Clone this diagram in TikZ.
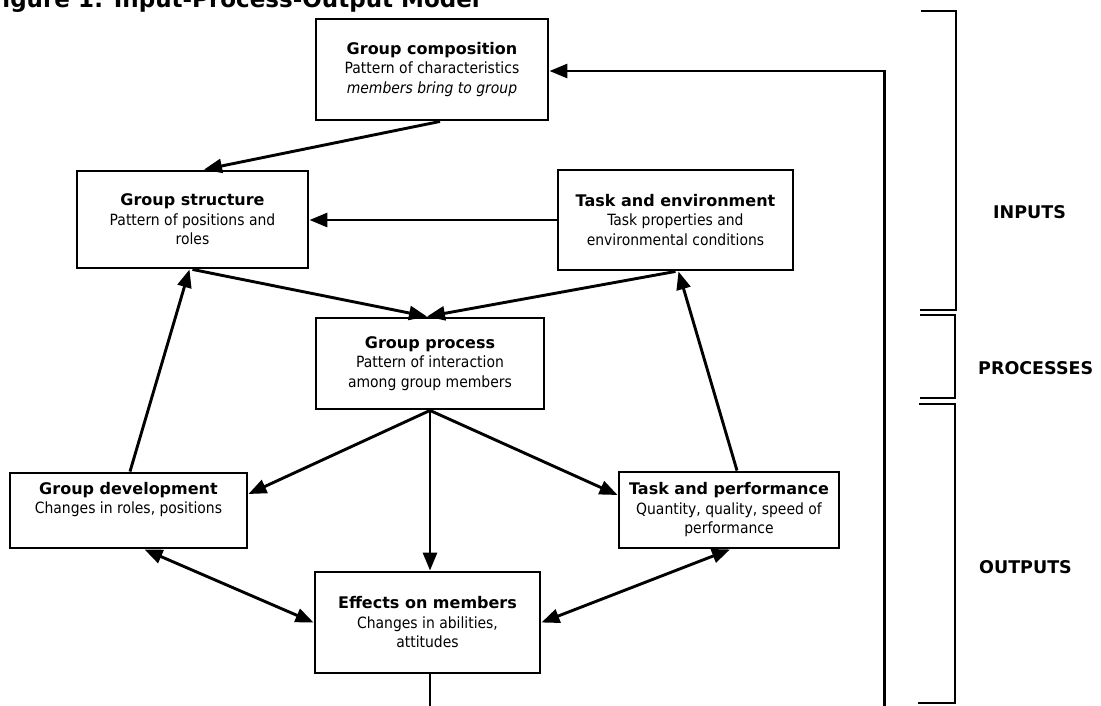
\documentclass[tikz,border=0pt]{standalone}
\usepackage{fontspec}
\setmainfont{DejaVu Sans Condensed}
\newfontfamily\widefont{DejaVu Sans}
\usetikzlibrary{arrows.meta,calc}
% heading line inside a box
\newcommand{\hd}[1]{{\widefont\bfseries\fontsize{16}{19.5}\selectfont #1}}
\tikzset{
  box/.style={draw, line width=2.9pt, inner sep=0pt, align=center,
    font=\fontsize{15.5}{19.5}\selectfont},
  arr/.style={line width=2.9pt, -{Triangle[length=18pt,width=14pt]}},
  dbl/.style={line width=2.9pt,
    {Triangle[length=18pt,width=14pt]}-{Triangle[length=18pt,width=14pt]}},
  bracket/.style={line width=1.4pt},
  tag/.style={font=\widefont\bfseries\fontsize{17.5}{20}\selectfont, anchor=west, inner sep=0pt},
}
\begin{document}
\begin{tikzpicture}[x=1pt,y=-1pt]
\useasboundingbox (0,0) rectangle (1101,705);
\clip (0,0) rectangle (1101,705);

% caption, mostly above the page edge
\node[anchor=base east, inner sep=0pt, font=\widefont\bfseries\fontsize{23}{26}\selectfont]
  (title) at (480,7) {Figure 1: Input-Process-Output Model};

% boxes
\node[box, minimum width=232, minimum height=101] (comp) at (432,69.5)
  {\hd{Group composition}\\Pattern of characteristics\\\itshape members bring to group};
\node[box, minimum width=231, minimum height=97] (struct) at (192.5,219.5)
  {\hd{Group structure}\\Pattern of positions and\\roles};
\node[box, minimum width=235, minimum height=100] (taskenv) at (675.5,220)
  {\hd{Task and environment}\\Task properties and\\environmental conditions};
\node[box, minimum width=228, minimum height=91] (process) at (430,363.5)
  {\hd{Group process}\\Pattern of interaction\\among group members};
\node[box, minimum width=237, minimum height=75] (dev) at (128.5,510.5)
  {\hd{Group development}\\Changes in roles, positions\\\strut};
\node[box, minimum width=220, minimum height=76] (perf) at (729,510)
  {\hd{Task and performance}\\Quantity, quality, speed of\\performance};
\node[box, minimum width=225, minimum height=101] (effects) at (427.5,622.5)
  {\hd{Effects on members}\\Changes in abilities,\\attitudes};

% connectors
\draw[arr] ([xshift=8pt]comp.south) -- ([xshift=11.5pt]struct.north);
\draw[arr] (taskenv.west) -- (taskenv.west -| struct.east);
\draw[arr] (struct.south) -- ([xshift=-3pt]process.north);
\draw[arr] (taskenv.south) -- ([xshift=-3pt]process.north);
\draw[arr] ([xshift=1.5pt]dev.north) -- ([xshift=-3pt]struct.south);
\draw[arr] ([xshift=8pt]perf.north) -- ([xshift=3pt]taskenv.south);
\draw[arr] (process.south) -- ([yshift=16.5pt]dev.east);
\draw[arr] (process.south) -- ([yshift=15pt]perf.west);
\draw[arr] (process.south) -- (process.south |- effects.north);
\draw[dbl] ([xshift=16pt]dev.south) -- (effects.west);
\draw[dbl] ([xshift=1pt]perf.south) -- (effects.east);

% feedback loop back to the composition box
\coordinate (loopL) at (430,720);
\coordinate (loopR) at (884.5,720);
\coordinate (loopT) at (884.5,71);
\draw[arr] (effects.south -| loopL) -- (loopL) -- (loopR) -- (loopT) -- (loopT -| comp.east);

% stage brackets
\draw[bracket] (921,11) -- (956,11) -- (956,310) -- (920,310);
\draw[bracket] (920,315) -- (955,315) -- (955,398) -- (920,398);
\draw[bracket] (919,404) -- (955,404) -- (955,703) -- (918,703);

\node[tag] (inputs) at (993,212) {INPUTS};
\node[tag] (processes) at (978,368) {PROCESSES};
\node[tag] (outputs) at (979,567) {OUTPUTS};
\end{tikzpicture}
\end{document}
